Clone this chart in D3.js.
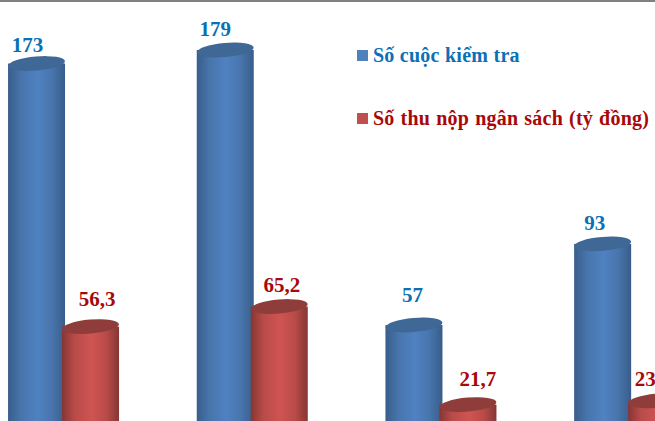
<!DOCTYPE html>
<html>
<head>
<meta charset="utf-8">
<script src="https://cdn.jsdelivr.net/npm/d3@7"></script>
<style>
html, body { margin: 0; padding: 0; background: #fff; overflow: hidden; }
svg { display: block; }
text { font-family: "Liberation Serif", serif; font-weight: bold; }
</style>
</head>
<body>
<div class="chart"></div>
<script>
// category names are cut off in the picture, so they are just numbered
const categories = ['1', '2', '3', '4'];
const seriesNames = ['Số cuộc kiểm tra', 'Số thu nộp ngân sách (tỷ đồng)'];
const inspections = [173, 179, 57, 93];
const revenue = [56.3, 65.2, 21.7, 23.4];

const seriesColors = [
    {label: '#0b70b5', swatch: '#4f81bd', edge: '#385d8a', soft: '#4874ab', mid: '#4f82c2', top: '#3f6896'},
    {label: '#a80808', swatch: '#c0504d', edge: '#863634', soft: '#b84b49', mid: '#cf5452', top: '#8e3d3b'}
];
// hand placed label nudges, the original labels were dragged around
const labelNudge = [[-9, -10, -1.5, -8], [6.5, 2.5, 10, -3.5]];
const labelGap = [[12, 14, 23, 14], [21, 14.5, 18.5, 15]];
const legendWordSpace = [0, 0.7];

const width = 655, height = 421;
const rx = 28.5, ry = 7, tilt = -5;

const svg = d3.select('.chart').append('svg')
    .attr('width', width)
    .attr('height', height);

const defs = svg.append('defs');
seriesColors.forEach((c, i) => {
    const g = defs.append('linearGradient').attr('id', 'cyl' + i)
        .attr('x1', '0').attr('x2', '1').attr('y1', '0').attr('y2', '0');
    g.append('stop').attr('offset', '0%').attr('stop-color', c.edge);
    g.append('stop').attr('offset', '22%').attr('stop-color', c.soft);
    g.append('stop').attr('offset', '52%').attr('stop-color', c.mid);
    g.append('stop').attr('offset', '78%').attr('stop-color', c.soft);
    g.append('stop').attr('offset', '100%').attr('stop-color', c.edge);
});

svg.append('rect')
    .attr('width', width)
    .attr('height', 2)
    .attr('fill', '#808080');

const x0 = d3.scaleBand().domain(categories).range([-30.8, 724]);
const x1 = d3.scaleBand().domain([0, 1]).range([40.35, 148.35]);
const y = d3.scaleLinear().domain([0, 179]).range([453.5, 50]);

const fmt = v => String(v).replace('.', ',');

[inspections, revenue].forEach((values, s) => {
    const cx = (d, i) => x0(categories[i]) + x1(s) + x1.bandwidth() / 2;
    const group = svg.append('g').attr('class', 'series' + s);

    group.selectAll('.body')
        .data(values)
        .enter().append('rect')
        .attr('class', 'body')
        .attr('x', (d, i) => cx(d, i) - rx)
        .attr('y', d => y(d))
        .attr('width', rx * 2)
        .attr('height', d => y(0) - y(d))
        .attr('fill', 'url(#cyl' + s + ')');

    group.selectAll('.cap')
        .data(values)
        .enter().append('ellipse')
        .attr('class', 'cap')
        .attr('rx', rx)
        .attr('ry', ry)
        .attr('transform', (d, i) => 'translate(' + cx(d, i) + ',' + y(d) + ') rotate(' + tilt + ')')
        .attr('fill', seriesColors[s].top);

    group.selectAll('.label')
        .data(values)
        .enter().append('text')
        .attr('class', 'label')
        .attr('x', (d, i) => cx(d, i) + labelNudge[s][i])
        .attr('y', (d, i) => y(d) - labelGap[s][i])
        .attr('text-anchor', 'middle')
        .attr('font-size', 21)
        .attr('fill', seriesColors[s].label)
        .text(d => fmt(d));
});

// legend
const legendY = d3.scalePoint().domain(seriesNames).range([62, 125]);
const legend = svg.selectAll('.legend')
    .data(seriesNames)
    .enter().append('g')
    .attr('class', 'legend')
    .attr('transform', d => 'translate(357,' + legendY(d) + ')');

legend.append('rect')
    .attr('y', -12)
    .attr('width', 11)
    .attr('height', 11)
    .attr('fill', (d, i) => seriesColors[i].swatch);

legend.append('text')
    .attr('x', 16)
    .attr('font-size', 20)
    .attr('letter-spacing', 0.25)
    .attr('word-spacing', (d, i) => legendWordSpace[i])
    .attr('fill', (d, i) => seriesColors[i].label)
    .text(d => d);
</script>
</body>
</html>
